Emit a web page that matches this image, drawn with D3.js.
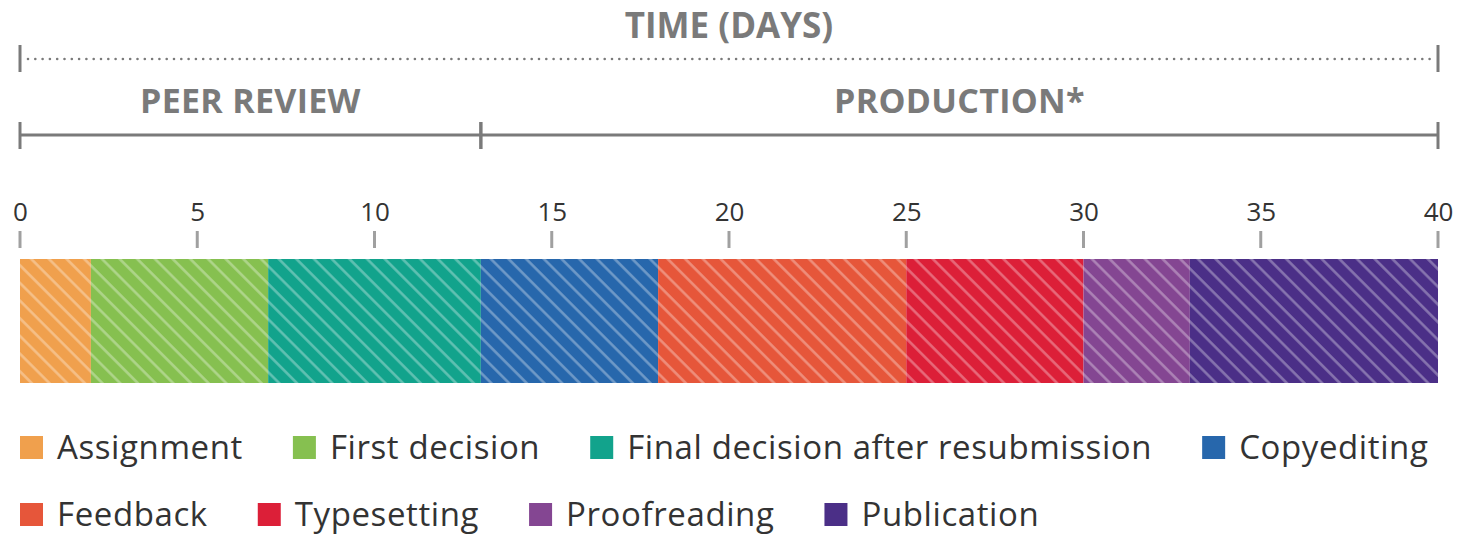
<!DOCTYPE html>
<html><head><meta charset="utf-8">
<script src="https://cdn.jsdelivr.net/npm/d3@7"></script>
<style>body{margin:0;background:#fff;} svg{display:block;}</style>
</head><body>
<svg id="c" width="1458" height="537"></svg>
<script>
const categories = ["Assignment","First decision","Final decision after resubmission","Copyediting","Feedback","Typesetting","Proofreading","Publication"];
const durations = [2,5,6,5,7,5,3,7];
const colors = ["#F0A04D","#86C050","#12A38C","#2767AC","#E6563A","#DC1F38","#844692","#4B2F87"];
const tickValues = [0,5,10,15,20,25,30,35,40];
const phases = ["PEER REVIEW","PRODUCTION*"];
const phaseBounds = [[0,13],[13,40]];
const totalLabel = "TIME (DAYS)";
const legendRows = [[0,1,2,3],[4,5,6,7]];

const svg = d3.select("#c");
const x = d3.scaleLinear().domain([0,40]).range([20,1438]);
const font = "'Open Sans', 'Noto Sans', sans-serif";
const gray = "#7a7a7a";

let acc = 0;
const segs = durations.map((d,i)=>{const s={start:acc,end:acc+d,i}; acc+=d; return s;});

const defs = svg.append("defs");
colors.forEach((c,i)=>{
  const p = defs.append("pattern").attr("id","p"+i).attr("patternUnits","userSpaceOnUse")
    .attr("width",12.5).attr("height",20).attr("patternTransform","rotate(-45)");
  p.append("rect").attr("width",12.5).attr("height",20).attr("fill",c);
  p.append("line").attr("x1",1.5).attr("x2",1.5).attr("y1",0).attr("y2",20)
    .attr("stroke","#fff").attr("stroke-opacity",0.34).attr("stroke-width",2.5);
});

svg.append("text").attr("x",(x(0)+x(40))/2).attr("y",38).attr("text-anchor","middle")
  .attr("font-family",font).attr("font-weight",700).attr("font-size",35).attr("fill",gray).text(totalLabel);
svg.append("line").attr("x1",x(0)+8).attr("x2",x(40)-6).attr("y1",59).attr("y2",59)
  .attr("stroke",gray).attr("stroke-width",2.6).attr("stroke-dasharray","0 7.3").attr("stroke-linecap","round");
[0,40].forEach(v=>svg.append("line").attr("x1",x(v)).attr("x2",x(v)).attr("y1",45).attr("y2",72)
  .attr("stroke",gray).attr("stroke-width",3));

phases.forEach((ph,k)=>{
  const [a,b]=phaseBounds[k];
  svg.append("text").attr("x",(x(a)+x(b))/2).attr("y",113).attr("text-anchor","middle")
    .attr("font-family",font).attr("font-weight",700).attr("font-size",34).attr("fill",gray)
    .attr("letter-spacing",0.3).text(ph);
  svg.append("line").attr("x1",x(a)).attr("x2",x(b)).attr("y1",135).attr("y2",135)
    .attr("stroke",gray).attr("stroke-width",3);
  [a,b].forEach(v=>svg.append("line").attr("x1",x(v)).attr("x2",x(v)).attr("y1",122).attr("y2",149)
    .attr("stroke",gray).attr("stroke-width",3));
});

const axis = d3.axisTop(x).tickValues(tickValues).tickSize(0).tickPadding(0);
const ag = svg.append("g").attr("transform","translate(0,221)").call(axis);
ag.select(".domain").remove();
ag.selectAll("text").attr("font-family",font).attr("font-size",26).attr("fill","#333").attr("dy",0).attr("y",0);
svg.append("g").selectAll("line").data(tickValues).join("line")
  .attr("x1",d=>x(d)).attr("x2",d=>x(d)).attr("y1",231).attr("y2",248)
  .attr("stroke","#a0a0a0").attr("stroke-width",3);

svg.append("g").selectAll("rect").data(segs).join("rect")
  .attr("x",d=>x(d.start)).attr("width",d=>x(d.end)-x(d.start))
  .attr("y",259).attr("height",124).attr("fill",d=>`url(#p${d.i})`);

const rowY=[447,514];
legendRows.forEach((row,r)=>{
  let cx=20;
  row.forEach(i=>{
    const g=svg.append("g");
    g.append("rect").attr("x",cx).attr("y",rowY[r]-11).attr("width",23).attr("height",23).attr("fill",colors[i]);
    const t=g.append("text").attr("x",cx+37).attr("y",rowY[r]).attr("dy","0.35em")
      .attr("font-family",font).attr("font-size",33).attr("letter-spacing",0.6).attr("fill","#333").text(categories[i]);
    cx += 37 + t.node().getComputedTextLength() + 50;
  });
});
</script>
</body></html>
